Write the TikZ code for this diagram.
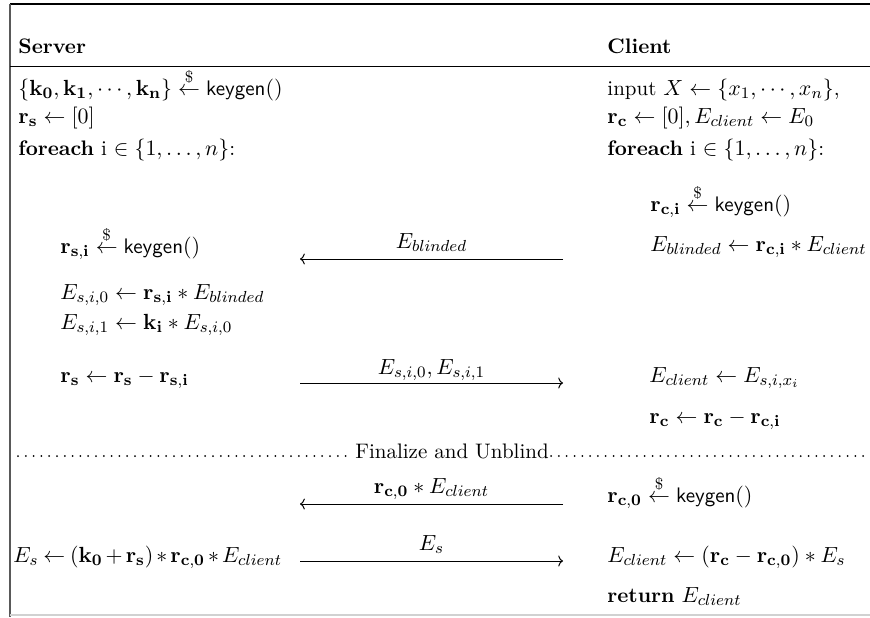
\documentclass[tikz,border=0pt]{standalone}
\usetikzlibrary{arrows.meta}
\DeclareMathSizes{10.5}{10.5}{7.9}{6.3}
\begin{document}
\begin{tikzpicture}[x=0.5pt,y=-0.5pt,
  fnt/.style={font=\fontsize{10.5}{12.6}\selectfont},
  txt/.style={fnt,anchor=base west,inner sep=0pt},
  lbl/.style={fnt,anchor=base,inner sep=0pt},
  msg/.style={line width=0.5pt,-{To[length=2.4pt,width=5.5pt]}},
  dotrow/.style={line width=1pt,line cap=round,dash pattern=on 0pt off 3.9pt},
]
\useasboundingbox (0,0) rectangle (870,617);
% frame
\draw[line width=0.8pt] (10,4) -- (870,4);
\draw[black!65,line width=0.8pt] (10,4) -- (10,617);
\draw[line width=0.5pt] (10,66) -- (870,66);
\draw[black!18,line width=0.7pt] (10,615) -- (870,615);
% headers
\node[txt] (hs) at (18,53) {\textbf{Server}};
\node[txt] (hc) at (607,53) {\textbf{Client}};
% server
\node[txt] (s1) at (18,95) {$\{\mathbf{k}_{\mathbf{0}},\mathbf{k}_{\mathbf{1}},\cdots,\mathbf{k}_{\mathbf{n}}\}\stackrel{\$}{\leftarrow}\textsf{keygen}()$};
\node[txt] (s2) at (18,123) {$\mathbf{r}_{\mathbf{s}}\leftarrow[0]$};
\node[txt] (s3) at (18,155) {\textbf{foreach} i $\in\{1,\ldots,n\}$:};
\node[txt] (s4) at (60,253) {$\mathbf{r}_{\mathbf{s,i}}\stackrel{\$}{\leftarrow}\textsf{keygen}()$};
\node[txt] (s5) at (60,299) {$E_{s,i,0}\leftarrow\mathbf{r}_{\mathbf{s,i}}*E_{blinded}$};
\node[txt] (s6) at (60,329) {$E_{s,i,1}\leftarrow\mathbf{k}_{\mathbf{i}}*E_{s,i,0}$};
\node[txt] (s7) at (60,382) {$\mathbf{r}_{\mathbf{s}}\leftarrow\mathbf{r}_{\mathbf{s}}-\mathbf{r}_{\mathbf{s,i}}$};
\node[txt] (s8) at (13,562) {\medmuskip=2.5mu\thickmuskip=4mu$E_s\leftarrow(\mathbf{k}_{\mathbf{0}}+\mathbf{r}_{\mathbf{s}})*\mathbf{r}_{\mathbf{c,0}}*E_{client}$};
% client
\node[txt] (c1) at (607,95) {input $X\leftarrow\{x_1,\cdots,x_n\}$,};
\node[txt] (c2) at (607,123) {$\mathbf{r}_{\mathbf{c}}\leftarrow[0],E_{client}\leftarrow E_0$};
\node[txt] (c3) at (607,155) {\textbf{foreach} i $\in\{1,\ldots,n\}$:};
\node[txt] (c4) at (650,211) {$\mathbf{r}_{\mathbf{c,i}}\stackrel{\$}{\leftarrow}\textsf{keygen}()$};
\node[txt] (c5) at (650,251) {$E_{blinded}\leftarrow\mathbf{r}_{\mathbf{c,i}}*E_{client}$};
\node[txt] (c6) at (649,382) {$E_{client}\leftarrow E_{s,i,x_i}$};
\node[txt] (c7) at (649,423) {$\mathbf{r}_{\mathbf{c}}\leftarrow\mathbf{r}_{\mathbf{c}}-\mathbf{r}_{\mathbf{c,i}}$};
\node[txt] (c8) at (607,502) {$\mathbf{r}_{\mathbf{c,0}}\stackrel{\$}{\leftarrow}\textsf{keygen}()$};
\node[txt] (c9) at (607,562) {$E_{client}\leftarrow\big(\mathbf{r}_{\mathbf{c}}-\mathbf{r}_{\mathbf{c,0}}\big)*E_s$};
\node[txt] (c10) at (607,602) {\textbf{return} $E_{client}$};
% messages
\coordinate (a1l) at (300,259); \coordinate (a1r) at (563,259);
\coordinate (a2l) at (300,383); \coordinate (a2r) at (563,383);
\coordinate (a3l) at (300,504); \coordinate (a3r) at (563,504);
\coordinate (a4l) at (300,561); \coordinate (a4r) at (563,561);
\draw[msg] (a1r) -- (a1l);
\draw[msg] (a2l) -- (a2r);
\draw[msg] (a3r) -- (a3l);
\draw[msg] (a4l) -- (a4r);
\node[lbl] (m1) at (431.5,248) {$E_{blinded}$};
\node[lbl] (m2) at (431.5,374) {$E_{s,i,0},E_{s,i,1}$};
\node[lbl] (m3) at (431.5,493) {$\mathbf{r}_{\mathbf{c,0}}*E_{client}$};
\node[lbl] (m4) at (431.5,550) {$E_s$};
% finalize separator
\node[lbl,inner xsep=1pt] (fin) at (452,458) {Finalize and Unblind};
\coordinate (dl) at (18,456); \coordinate (dr) at (868,456);
\draw[dotrow] (dl) -- (dl -| fin.west);
\draw[dotrow] (dr -| fin.east) -- (dr);
\end{tikzpicture}
\end{document}
